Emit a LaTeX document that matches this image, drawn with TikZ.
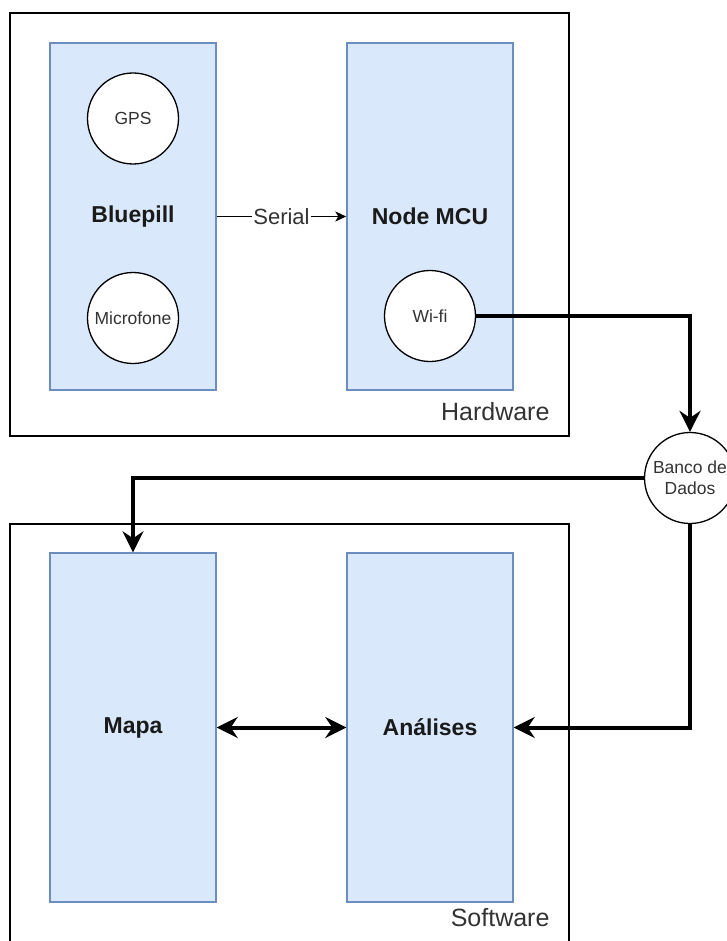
\documentclass[tikz,border=0pt]{standalone}
\usepackage{fontspec}
\setmainfont{Liberation Sans}
\usetikzlibrary{arrows.meta}
\definecolor{bfill}{HTML}{DAE8FC}
\definecolor{bdraw}{HTML}{6C8EBF}
\definecolor{txt}{HTML}{1A1A1A}
\definecolor{stxt}{HTML}{333333}
\tikzset{
  group/.style={draw=black, line width=1.3pt, fill=none, minimum width=559pt, inner sep=0pt},
  bluebox/.style={draw=bdraw, line width=1.4pt, fill=bfill, minimum width=166pt, inner sep=0pt,
    font=\fontsize{23}{27}\selectfont\bfseries, text=txt},
  comp/.style={circle, draw=black, line width=1.3pt, fill=white, minimum size=91pt, inner sep=0pt,
    font=\fontsize{17.5}{21}\selectfont, text=stxt, align=center},
  grouplabel/.style={font=\fontsize{25}{29}\selectfont, text=stxt, anchor=east},
  thick link/.style={line width=4pt, -{Stealth[length=21pt,width=21pt,inset=7pt]}},
  thin link/.style={line width=1.3pt, -{Stealth[length=11pt,width=10pt,inset=3pt]}}
}
\begin{document}
\begin{tikzpicture}[x=1pt,y=-1pt]
\useasboundingbox (0,0) rectangle (726,941);
\fill[white] (0,0) rectangle (726,941);
% groups
\node[group, minimum height=423pt] (hw) at (289.5,224.5) {};
\node[group, minimum height=436pt] (sw) at (289.5,742) {};
\node[grouplabel] (hwl) at (553,412) {Hardware};
\node[grouplabel] (swl) at (553,918) {Software};
% blue boxes
\node[bluebox, minimum height=347pt] (bluepill) at (133,216.5) {Bluepill};
\node[bluebox, minimum height=347pt] (nodemcu) at (430,216.5) {Node MCU};
\node[bluebox, minimum height=349pt] (mapa) at (133,727.5) {Mapa};
\node[bluebox, minimum height=349pt] (analises) at (430,727.5) {Análises};
% components
\node[comp] (gps) at (133,118.5) {GPS};
\node[comp] (mic) at (133,318) {Microfone};
\node[comp] (wifi) at (430,316) {Wi-fi};
\node[comp] (banco) at (690,478) {Banco de\\Dados};
% connectors
\draw[thin link] (bluepill.east) -- node[fill=white, inner sep=1pt, font=\fontsize{22}{26}\selectfont, text=stxt] (serial) {Serial} (nodemcu.west);
\draw[thick link] (wifi.east) -| (banco.north);
\draw[thick link] (banco.west) -| (mapa.north);
\draw[thick link] (banco.south) |- (analises.east);
\draw[line width=4pt, {Stealth[length=21pt,width=21pt,inset=7pt]}-{Stealth[length=21pt,width=21pt,inset=7pt]}] (mapa.east) -- (analises.west);
\end{tikzpicture}
\end{document}
